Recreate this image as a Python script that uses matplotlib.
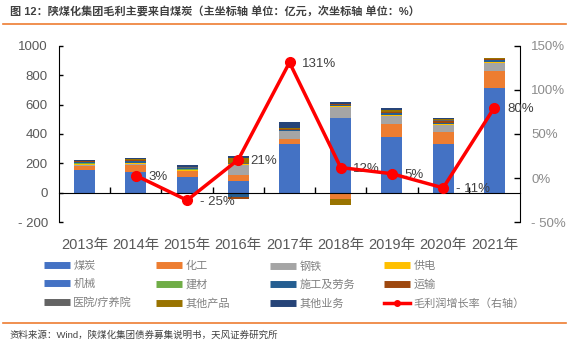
import numpy as np
import matplotlib
matplotlib.use("Agg")
import matplotlib.pyplot as plt
from matplotlib.lines import Line2D
from matplotlib.ticker import FixedLocator, FuncFormatter

plt.rcParams['font.family'] = ['Liberation Sans', 'Noto Sans CJK SC', 'DejaVu Sans']

years = ['2013年', '2014年', '2015年', '2016年', '2017年', '2018年', '2019年', '2020年', '2021年']
series_names = ['煤炭', '化工', '钢铁', '供电', '机械', '建材', '施工及劳务', '运输',
                '医院/疗养院', '其他产品', '其他业务']
coal      = [158, 145, 106, 84, 335, 511, 382, 335, 715]
chemical  = [27, 47, 40, 40, 33, -40, 89, 81, 116]
steel     = [4, 4, -10, 68, 50, 73, 54, 45, 52]
power     = [10, 10, 10, 7, 0, 3, 3, 4, 3]
machinery = [0, 0, 0, 0, 0, 0, 0, 0, 0]
building  = [2, 0, 3, 0, 0, 0, 0, 2, 6]
construct = [10, 8, 10, -30, 10, 12, 14, 10, 10]
transport = [3, 6, 2, -10, 3, 5, 8, 14, 6]
medical   = [2, 2, 2, 2, 0, 3, 2, 3, 2]
other_prod = [2, 8, 3, 37, 10, -40, 14, 8, 5]
other_biz = [5, 5, 10, 11, 43, 13, 10, 7, 4]
growth = [np.nan, 3, -25, 21, 131, 12, 5, -11, 80]
growth_labels = ['', '3%', '- 25%', '21%', '131%', '12%', '5%', '- 11%', '80%']

series = [coal, chemical, steel, power, machinery, building, construct, transport,
          medical, other_prod, other_biz]
colors = ['#4472C4', '#ED7D31', '#A5A5A5', '#FFC000', '#4472C4', '#70AD47', '#255E91',
          '#9E480E', '#636363', '#997300', '#264478']
line_name = '毛利润增长率（右轴）'

W, H = 569, 354
fig = plt.figure(figsize=(W / 100, H / 100), dpi=100)

def fx(px):
    return px / W

def fy(py):
    return 1 - py / H

ax = fig.add_axes([fx(59), fy(222.3), fx(520 - 59), (222.3 - 45.7) / H])
x = np.arange(len(years))
pos_b = np.zeros(len(years))
neg_b = np.zeros(len(years))
bw = 0.41
for vals, c in zip(series, colors):
    v = np.array(vals, dtype=float)
    bottoms = np.where(v >= 0, pos_b, neg_b)
    ax.bar(x, v, bw, bottom=bottoms, color=c, linewidth=0, zorder=2)
    pos_b = pos_b + np.where(v >= 0, v, 0)
    neg_b = neg_b + np.where(v < 0, v, 0)

ax.set_xlim(-0.5, len(years) - 0.5)
ax.set_ylim(-200, 1000)
ax.set_yticks(np.arange(-200, 1001, 200))
ax.yaxis.set_major_formatter(FuncFormatter(lambda v, p: f'{int(v)}' if v >= 0 else f'- {int(-v)}'))
ax.tick_params(axis='y', direction='in', length=3, width=1, pad=8, labelsize=9.5,
               labelcolor='#595959', color='black')
for s in ['top', 'right']:
    ax.spines[s].set_visible(False)
ax.spines['left'].set_color('black')
ax.spines['bottom'].set_position(('data', 0))
ax.spines['bottom'].set_color('black')
ax.set_xticks(x)
ax.set_xticklabels([])
ax.tick_params(axis='x', which='major', length=0)
ax.xaxis.set_minor_locator(FixedLocator(np.arange(0.5, len(years) - 0.6, 1)))
ax.tick_params(axis='x', which='minor', direction='in', length=4, width=1, color='black')

sec = ax.secondary_xaxis('bottom')
sec.set_xticks(x)
sec.set_xticklabels(years)
sec.tick_params(axis='x', length=0, pad=11, labelsize=10.5, labelcolor='#595959')
sec.spines['bottom'].set_visible(False)

ax2 = ax.twinx()
ax2.set_ylim(-50, 150)
ax2.set_yticks(np.arange(-50, 151, 50))
ax2.yaxis.set_major_formatter(FuncFormatter(lambda v, p: f'{int(v)}%' if v >= 0 else f'- {int(-v)}%'))
ax2.tick_params(axis='y', direction='in', length=4, width=1, pad=8, labelsize=9.5,
                labelcolor='#8C8C8C', color='black')
for s in ['top', 'left', 'bottom']:
    ax2.spines[s].set_visible(False)
ax2.spines['right'].set_color('black')
ax2.plot(x, growth, color='#FF0000', lw=2.5, marker='o', ms=7, zorder=5)
for xi, g, lab in zip(x, growth, growth_labels):
    if lab:
        ax2.annotate(lab, (xi, g), xytext=(9, -1), textcoords='offset points',
                     ha='left', va='center', fontsize=9.5, color='#404040')

# title and source
fig.text(fx(10), fy(12), '图 12：陕煤化集团毛利主要来自煤炭（主坐标轴 单位：亿元，次坐标轴 单位：%）',
         fontsize=8, fontweight='bold', color='#404040', ha='left', va='center')
fig.add_artist(Line2D([fx(3), fx(566)], [fy(23.5), fy(23.5)], color='#ED7D31', lw=1.2))
fig.add_artist(Line2D([fx(3), fx(566)], [fy(323), fy(323)], color='#ED7D31', lw=1.2))
fig.text(fx(10), fy(335), '资料来源：Wind，陕煤化集团债券募集说明书，天风证券研究所',
         fontsize=6.8, color='#404040', ha='left', va='center')

# legends, 4 columns
col_x = [44, 156, 270, 384]
for k in range(4):
    handles, labels = [], []
    for r in range(3):
        idx = k + 4 * r
        if idx < len(series):
            handles.append(Line2D([0], [0], color=colors[idx], lw=5, solid_capstyle='butt'))
            labels.append(series_names[idx])
        else:
            handles.append(Line2D([0], [0], color='#FF0000', lw=2.5, marker='o', ms=4))
            labels.append(line_name)
    fig.legend(handles, labels, loc='upper left', bbox_to_anchor=(fx(col_x[k]), fy(261)),
               frameon=False, fontsize=8, labelcolor='#808080', handlelength=2.3,
               handletextpad=0.35, borderpad=0, borderaxespad=0, labelspacing=0.75)

fig.savefig('out.png', dpi=100)
